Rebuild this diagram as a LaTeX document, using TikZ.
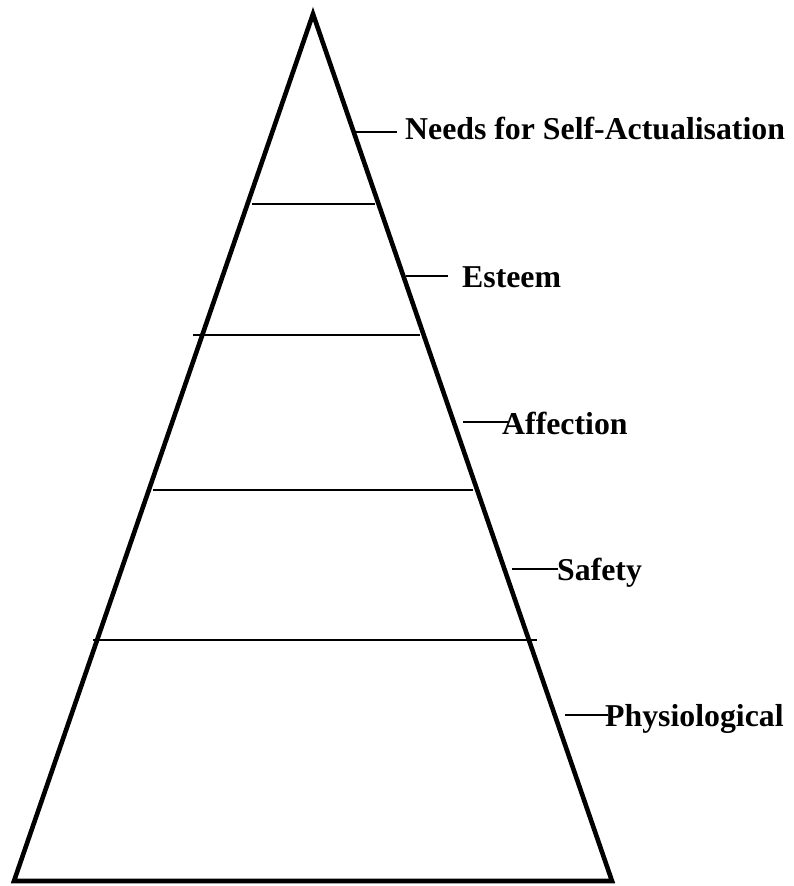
\documentclass[tikz,border=0pt]{standalone}
\usepackage{fontspec}
\setmainfont{Liberation Serif}
\begin{document}
\begin{tikzpicture}[x=1pt,y=-1pt,
  edge/.style={line width=4.6pt,line join=miter},
  level/.style={line width=1.5pt},
  tick/.style={line width=1.6pt},
  lbl/.style={anchor=base west,inner sep=0pt,font=\fontsize{31.8}{36}\selectfont\bfseries}]
\useasboundingbox (0,0) rectangle (793,886);
% pyramid
\coordinate (apex) at (313,14);
\coordinate (bl) at (14,881);
\coordinate (br) at (612,881);
\draw[edge] (apex) -- (br) -- (bl) -- cycle;
% level lines
\coordinate (l1a) at (252,204); \coordinate (l1b) at (375,204);
\coordinate (l2a) at (193,335); \coordinate (l2b) at (420,335);
\coordinate (l3a) at (153,490); \coordinate (l3b) at (473,490);
\coordinate (l4a) at (93,640);  \coordinate (l4b) at (537,640);
\draw[level] (l1a) -- (l1b);
\draw[level] (l2a) -- (l2b);
\draw[level] (l3a) -- (l3b);
\draw[level] (l4a) -- (l4b);
% ticks
\coordinate (t1a) at (353,132); \coordinate (t1b) at (397,132);
\coordinate (t2a) at (406,276); \coordinate (t2b) at (448,276);
\coordinate (t3a) at (463,422); \coordinate (t3b) at (508,422);
\coordinate (t4a) at (512,569); \coordinate (t4b) at (558,569);
\coordinate (t5a) at (565,715); \coordinate (t5b) at (608,715);
\draw[tick] (t1a) -- (t1b);
\draw[tick] (t2a) -- (t2b);
\draw[tick] (t3a) -- (t3b);
\draw[tick] (t4a) -- (t4b);
\draw[tick] (t5a) -- (t5b);
% labels
\node[lbl] (n1) at (405,139) {Needs for Self-Actualisation};
\node[lbl] (n2) at (462,287) {Esteem};
\node[lbl] (n3) at (502,434) {Affection};
\node[lbl] (n4) at (557,580) {Safety};
\node[lbl] (n5) at (605,726) {Physiological};
\end{tikzpicture}
\end{document}
